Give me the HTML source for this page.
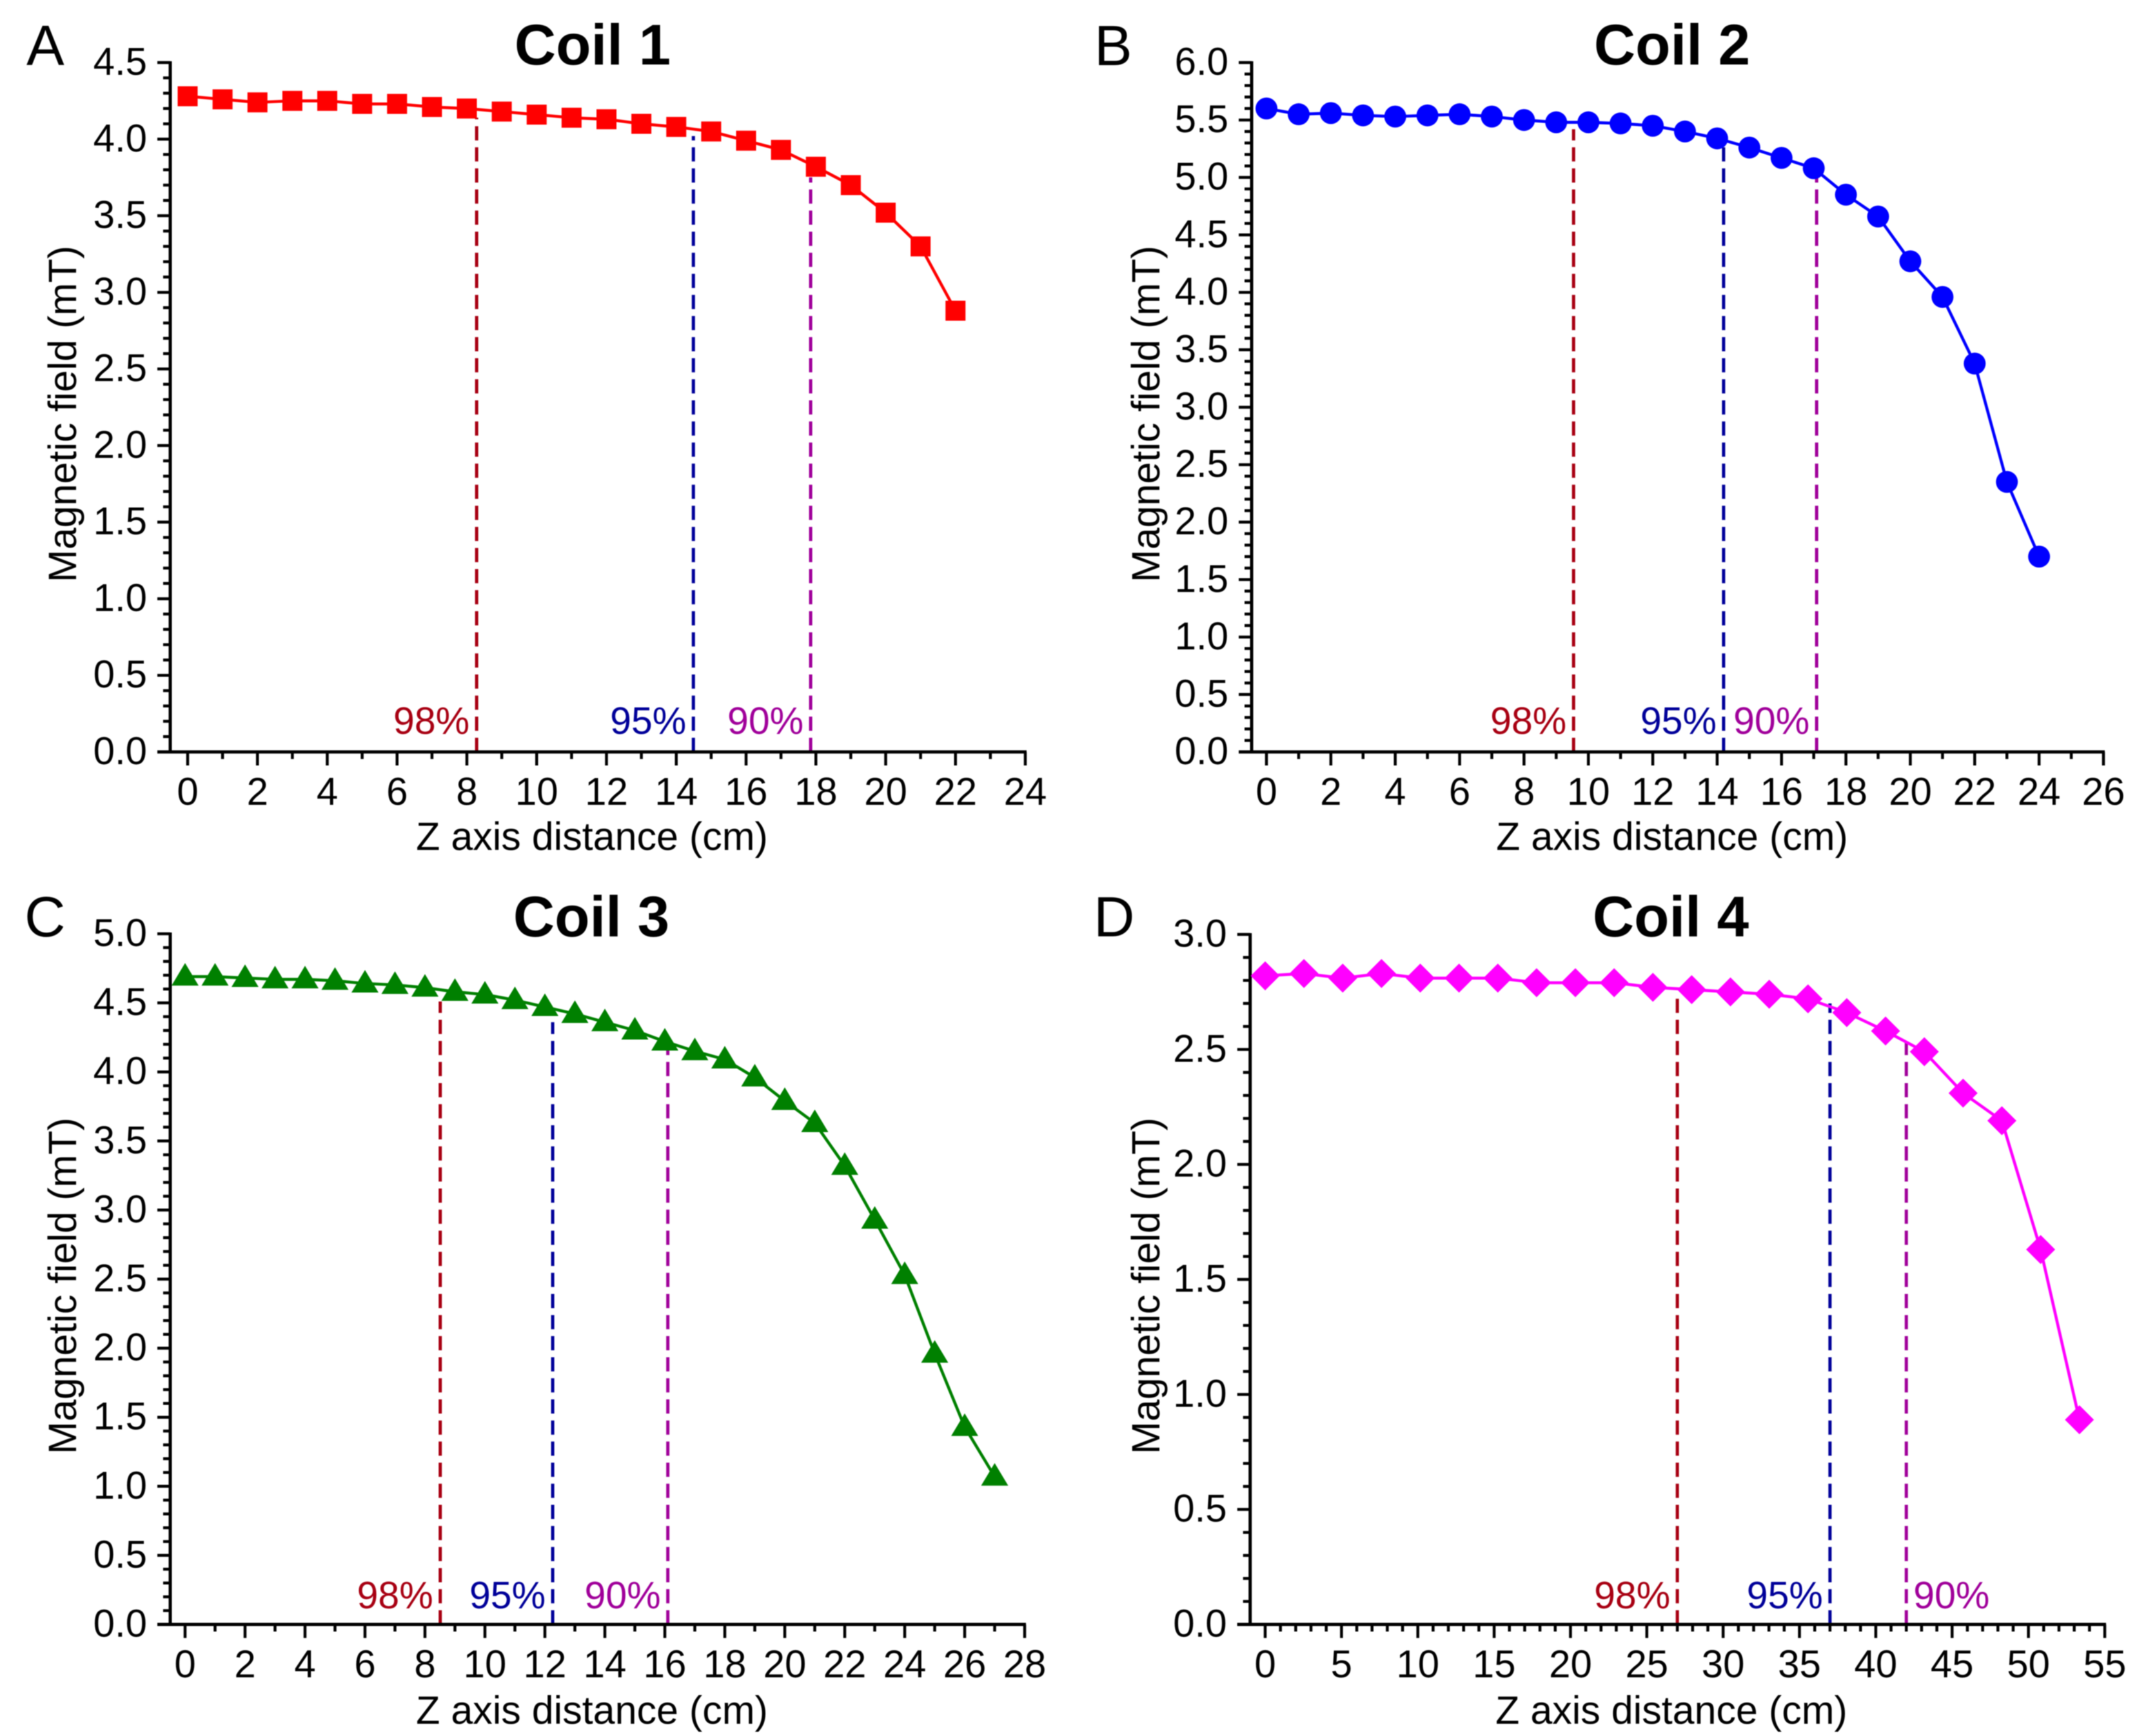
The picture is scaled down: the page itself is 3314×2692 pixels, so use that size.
<!DOCTYPE html>
<html lang="en">
<head>
<meta charset="utf-8">
<title>Magnetic field along the Z axis for four coils</title>
<style>
html,body{margin:0;padding:0;background:#fff;width:3314px;height:2692px;overflow:hidden}
svg{display:block;font-family:"Liberation Sans",sans-serif;filter:blur(0.8px)}
.panel-letter{font-size:88px;fill:#000}
.panel-title{font-size:89px;font-weight:bold;fill:#000;text-anchor:middle}
.axis-title{font-size:61px;fill:#000;text-anchor:middle}
.tick-label{font-size:60px;fill:#000}
.threshold-label{font-size:59px}
</style>
</head>
<body>
<svg id="figure" xmlns="http://www.w3.org/2000/svg" width="3314" height="2692" viewBox="0 0 3314 2692">
  <rect x="0" y="0" width="3314" height="2692" fill="#fff"/>
  <text class="panel-letter" x="41" y="101">A</text>
  <text class="panel-letter" x="1697" y="101">B</text>
  <text class="panel-letter" x="38" y="1452">C</text>
  <text class="panel-letter" x="1696" y="1452">D</text>

  <text class="panel-title" x="919" y="100">Coil 1</text>
  <text class="panel-title" x="2593" y="100">Coil 2</text>
  <text class="panel-title" x="917" y="1452">Coil 3</text>
  <text class="panel-title" x="2591" y="1452">Coil 4</text>

  <text class="axis-title" x="918" y="1318">Z axis distance (cm)</text>
  <text class="axis-title" x="2593" y="1318">Z axis distance (cm)</text>
  <text class="axis-title" x="918" y="2673">Z axis distance (cm)</text>
  <text class="axis-title" x="2592" y="2673">Z axis distance (cm)</text>

  <text class="axis-title" transform="translate(118 642) rotate(-90)">Magnetic field (mT)</text>
  <text class="axis-title" transform="translate(1798 642) rotate(-90)">Magnetic field (mT)</text>
  <text class="axis-title" transform="translate(118 1994) rotate(-90)">Magnetic field (mT)</text>
  <text class="axis-title" transform="translate(1798 1994) rotate(-90)">Magnetic field (mT)</text>
</svg>

<script>
// ---- Coil 1 data ----
const coil1Distance = [0,1,2,3,4,5,6,7,8,9,10,11,12,13,14,15,16,17,18,19,20,21,22];
const coil1Field = [4.28,4.26,4.24,4.25,4.25,4.23,4.23,4.21,4.20,4.18,4.16,4.14,4.13,4.10,4.08,4.05,3.99,3.93,3.82,3.70,3.52,3.30,2.88];
const coil1XTicks = [0,2,4,6,8,10,12,14,16,18,20,22,24];
const coil1YTicks = ['0.0','0.5','1.0','1.5','2.0','2.5','3.0','3.5','4.0','4.5'];
const coil1ThresholdAt = [8.28,14.49,17.85];
const coil1ThresholdTop = [4.14,4.02,3.75];

// ---- Coil 2 data ----
const coil2Distance = [0,1,2,3,4,5,6,7,8,9,10,11,12,13,14,15,16,17,18,19,20,21,22,23,24];
const coil2Field = [5.60,5.55,5.56,5.54,5.53,5.54,5.55,5.53,5.50,5.48,5.48,5.47,5.45,5.40,5.34,5.26,5.17,5.08,4.85,4.66,4.27,3.96,3.38,2.35,1.70];
const coil2XTicks = [0,2,4,6,8,10,12,14,16,18,20,22,24,26];
const coil2YTicks = ['0.0','0.5','1.0','1.5','2.0','2.5','3.0','3.5','4.0','4.5','5.0','5.5','6.0'];
const coil2ThresholdAt = [9.54,14.2,17.09];
const coil2ThresholdTop = [5.42,5.30,5.05];

// ---- Coil 3 data ----
const coil3Distance = [0,1,2,3,4,5,6,7,8,9,10,11,12,13,14,15,16,17,18,19,20,21,22,23,24,25,26,27];
const coil3Field = [4.69,4.69,4.68,4.67,4.67,4.66,4.64,4.63,4.61,4.58,4.56,4.52,4.47,4.42,4.36,4.30,4.22,4.15,4.09,3.96,3.79,3.63,3.32,2.93,2.53,1.96,1.43,1.07];
const coil3XTicks = [0,2,4,6,8,10,12,14,16,18,20,22,24,26,28];
const coil3YTicks = ['0.0','0.5','1.0','1.5','2.0','2.5','3.0','3.5','4.0','4.5','5.0'];
const coil3ThresholdAt = [8.51,12.26,16.1];
const coil3ThresholdTop = [4.51,4.36,4.17];

// ---- Coil 4 data ----
const coil4Distance = [0,2.54,5.08,7.62,10.16,12.7,15.24,17.78,20.32,22.86,25.4,27.94,30.48,33.02,35.56,38.1,40.64,43.18,45.72,48.26,50.8,53.34];
const coil4Field = [2.82,2.83,2.81,2.83,2.81,2.81,2.81,2.79,2.79,2.79,2.77,2.76,2.75,2.74,2.72,2.66,2.58,2.49,2.31,2.19,1.63,0.89];
const coil4XTicks = [0,5,10,15,20,25,30,35,40,45,50,55];
const coil4YTicks = ['0.0','0.5','1.0','1.5','2.0','2.5','3.0'];
const coil4ThresholdAt = [27,37,42];
const coil4ThresholdTop = [2.74,2.70,2.53];

const thresholdLabels = ['98%','95%','90%'];

// ---- Layout and styling (no data values) ----
const SVG_NS = 'http://www.w3.org/2000/svg';
const figure = document.getElementById('figure');
const thresholdColors = ['#a80012','#000099','#a0009a'];

const panels = [
  {key:'coil-1', xs:coil1Distance, ys:coil1Field, xt:coil1XTicks, yt:coil1YTicks, at:coil1ThresholdAt, top:coil1ThresholdTop,
   color:'#ff0000', marker:'square', axisX:264, plotTop:97, plotBottom:1166, x0:291, x1:1590, xMinors:1, sides:['end','end','end'], labelRise:28},
  {key:'coil-2', xs:coil2Distance, ys:coil2Field, xt:coil2XTicks, yt:coil2YTicks, at:coil2ThresholdAt, top:coil2ThresholdTop,
   color:'#0000ff', marker:'circle', axisX:1941, plotTop:97, plotBottom:1166, x0:1964, x1:3262, xMinors:1, sides:['end','end','end'], labelRise:28},
  {key:'coil-3', xs:coil3Distance, ys:coil3Field, xt:coil3XTicks, yt:coil3YTicks, at:coil3ThresholdAt, top:coil3ThresholdTop,
   color:'#008000', marker:'triangle', axisX:264, plotTop:1448, plotBottom:2519, x0:287, x1:1589, xMinors:1, sides:['end','end','end'], labelRise:25},
  {key:'coil-4', xs:coil4Distance, ys:coil4Field, xt:coil4XTicks, yt:coil4YTicks, at:coil4ThresholdAt, top:coil4ThresholdTop,
   color:'#ff00ff', marker:'diamond', axisX:1938.7, plotTop:1449, plotBottom:2519, x0:1962, x1:3264, xMinors:4, sides:['end','end','start'], labelRise:25}
];

function svgEl(tag, attrs, parent) {
  const el = document.createElementNS(SVG_NS, tag);
  for (const k in attrs) el.setAttribute(k, attrs[k]);
  parent.appendChild(el);
  return el;
}

function drawPanel(p) {
  const xMax = p.xt[p.xt.length - 1];
  const yValues = p.yt.map(Number);
  const yMax = yValues[yValues.length - 1];
  const xScale = v => p.x0 + (v / xMax) * (p.x1 - p.x0);
  const yScale = v => p.plotBottom - (v / yMax) * (p.plotBottom - p.plotTop);

  const g = svgEl('g', {}, figure);
  
  

  // threshold dashed lines and labels
  p.at.forEach((v, i) => {
    const dash = svgEl('line', {x1:xScale(v), x2:xScale(v), y1:p.plotBottom, y2:yScale(p.top[i]),
      stroke:thresholdColors[i], 'stroke-width':5, 'stroke-dasharray':'22 10.7'}, g);
    
    
    const side = p.sides[i];
    const label = svgEl('text', {x:xScale(v) + (side === 'end' ? -11 : 11), y:p.plotBottom - p.labelRise,
      'text-anchor':side, fill:thresholdColors[i], class:'threshold-label'}, g);
    label.textContent = thresholdLabels[i];
    
    
  });

  // y axis
  const yAxis = svgEl('line', {x1:p.axisX, x2:p.axisX, y1:p.plotTop - 2, y2:p.plotBottom + 2, stroke:'#000', 'stroke-width':5}, g);
  
  
  yValues.forEach((v, i) => {
    const y = yScale(v);
    const tick = svgEl('line', {x1:p.axisX - 20, x2:p.axisX, y1:y, y2:y, stroke:'#000', 'stroke-width':4.5}, g);
    
    
    const label = svgEl('text', {x:p.axisX - 36, y:y + 19, 'text-anchor':'end', class:'tick-label'}, g);
    label.textContent = p.yt[i];
    
    
    if (i < yValues.length - 1) {
      const step = (yValues[i + 1] - v) / 5;
      for (let m = 1; m < 5; m++) {
        const my = yScale(v + step * m);
        const minor = svgEl('line', {x1:p.axisX - 11, x2:p.axisX, y1:my, y2:my, stroke:'#000', 'stroke-width':4.5}, g);
        
        
      }
    }
  });

  // x axis
  const xAxis = svgEl('line', {x1:p.axisX - 20, x2:p.x1 + 2, y1:p.plotBottom, y2:p.plotBottom, stroke:'#000', 'stroke-width':5}, g);
  
  
  p.xt.forEach((v, i) => {
    const x = xScale(v);
    const tick = svgEl('line', {x1:x, x2:x, y1:p.plotBottom, y2:p.plotBottom + 21, stroke:'#000', 'stroke-width':4.5}, g);
    
    
    const label = svgEl('text', {x:x, y:p.plotBottom + 82, 'text-anchor':'middle', class:'tick-label'}, g);
    label.textContent = String(v);
    
    
    if (i < p.xt.length - 1) {
      const step = (p.xt[i + 1] - v) / (p.xMinors + 1);
      for (let m = 1; m <= p.xMinors; m++) {
        const mx = xScale(v + step * m);
        const minor = svgEl('line', {x1:mx, x2:mx, y1:p.plotBottom, y2:p.plotBottom + 11, stroke:'#000', 'stroke-width':4.5}, g);
        
        
      }
    }
  });

  // series line
  const points = p.xs.map((v, i) => xScale(v) + ',' + yScale(p.ys[i])).join(' ');
  const line = svgEl('polyline', {points:points, fill:'none', stroke:p.color, 'stroke-width':4.6, 'stroke-linejoin':'round'}, g);
  
  

  // series markers
  p.xs.forEach((v, i) => {
    const cx = xScale(v);
    const cy = yScale(p.ys[i]);
    let mark;
    if (p.marker === 'square') {
      mark = svgEl('rect', {x:cx - 15.5, y:cy - 15.5, width:31, height:31, fill:p.color}, g);
    } else if (p.marker === 'circle') {
      mark = svgEl('circle', {cx:cx, cy:cy, r:17, fill:p.color}, g);
    } else if (p.marker === 'triangle') {
      mark = svgEl('polygon', {points:(cx - 21) + ',' + (cy + 14) + ' ' + (cx + 21) + ',' + (cy + 14) + ' ' + cx + ',' + (cy - 21), fill:p.color}, g);
    } else {
      mark = svgEl('polygon', {points:(cx - 22.5) + ',' + cy + ' ' + cx + ',' + (cy - 22.5) + ' ' + (cx + 22.5) + ',' + cy + ' ' + cx + ',' + (cy + 22.5), fill:p.color}, g);
    }
    
    
  });
}

panels.forEach(drawPanel);
</script>
</body>
</html>
